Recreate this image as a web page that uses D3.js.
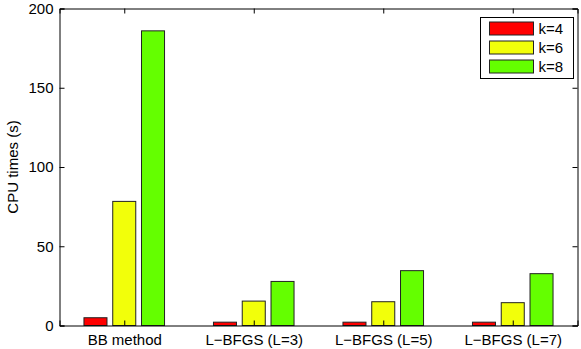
<!DOCTYPE html>
<html>
<head>
<meta charset="utf-8">
<script src="https://cdn.jsdelivr.net/npm/d3@7"></script>
<style>
  body { margin: 0; background: #fff; }
  svg { display: block; }
  text { font-family: "Liberation Sans", Arial, sans-serif; font-size: 15px; fill: #000; }
</style>
</head>
<body>
<svg id="chart" width="581" height="349"></svg>
<script>
// data
var categories = ["BB method", "L\u2212BFGS (L=3)", "L\u2212BFGS (L=5)", "L\u2212BFGS (L=7)"];
var seriesNames = ["k=4", "k=6", "k=8"];
var k4 = [4.9, 2.1, 2.1, 2.1];
var k6 = [78.3, 15.4, 15.0, 14.4];
var k8 = [185.9, 27.8, 34.6, 32.7];
var yTicks = [0, 50, 100, 150, 200];
var colors = ["#ff0000", "#f2ff0a", "#64ff00"];

var series = [k4, k6, k8];

var svg = d3.select("#chart");
var plotL = 59.5, plotR = 577.5, plotT = 8.5, plotB = 325.5;

var x = d3.scaleLinear().domain([0.5, categories.length + 0.5]).range([plotL, plotR]);
var y = d3.scaleLinear().domain([0, 200]).range([plotB, plotT]);

// matlab style grouped bars
var groupWidth = Math.min(0.8, series.length / (series.length + 1.5));
var barStep = groupWidth / series.length;
var barWidth = 0.8 * barStep;

series.forEach(function (vals, si) {
    var off = (si - (series.length - 1) / 2) * barStep;
    svg.append("g").selectAll("rect")
        .data(vals)
        .enter().append("rect")
        .attr("x", function (d, i) { return x(i + 1 + off - barWidth / 2); })
        .attr("width", function () { return x(barWidth) - x(0); })
        .attr("y", function (d) { return y(d); })
        .attr("height", function (d) { return y(0) - y(d); })
        .attr("fill", colors[si])
        .attr("stroke", "#222")
        .attr("stroke-width", 1);
});

// axes (ticks inward, box all round)
var tk = 5;
var xAxisB = d3.axisBottom(x).tickValues(d3.range(1, categories.length + 1))
    .tickSize(-tk).tickPadding(9).tickFormat(function (d) { return categories[d - 1]; });
var xAxisT = d3.axisTop(x).tickValues(d3.range(1, categories.length + 1))
    .tickSize(-tk).tickFormat("");
var yAxisL = d3.axisLeft(y).tickValues(yTicks).tickSize(-tk).tickPadding(6);
var yAxisR = d3.axisRight(y).tickValues(yTicks).tickSize(-tk).tickFormat("");

function styleAxis(g) {
    g.selectAll("path, line").attr("stroke", "#000");
    g.selectAll("text").attr("fill", "#000");
    g.attr("font-size", null).attr("font-family", null);
}

svg.append("g").attr("transform", "translate(0," + plotB + ")").call(xAxisB).call(styleAxis);
svg.append("g").attr("transform", "translate(0," + plotT + ")").call(xAxisT).call(styleAxis);
svg.append("g").attr("transform", "translate(" + plotL + ",0)").call(yAxisL).call(styleAxis);
svg.append("g").attr("transform", "translate(" + plotR + ",0)").call(yAxisR).call(styleAxis);

svg.append("text")
    .attr("transform", "translate(18," + ((plotT + plotB) / 2) + ") rotate(-90)")
    .attr("text-anchor", "middle")
    .text("CPU times (s)");

// legend
var lg = svg.append("g").attr("transform", "translate(480.5,17.5)");
lg.append("rect").attr("width", 93).attr("height", 61)
    .attr("fill", "#fff").attr("stroke", "#000");
seriesNames.forEach(function (name, i) {
    lg.append("rect")
        .attr("x", 9).attr("y", 4.5 + i * 19)
        .attr("width", 44).attr("height", 13)
        .attr("fill", colors[i]).attr("stroke", "#222");
    lg.append("text")
        .attr("x", 58).attr("y", 11 + i * 19)
        .attr("dy", "0.35em")
        .text(name);
});
</script>
</body>
</html>
